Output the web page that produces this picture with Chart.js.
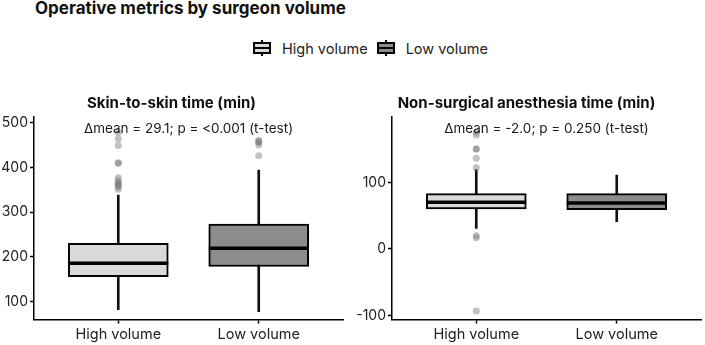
<!DOCTYPE html>
<html>
<head>
<meta charset="utf-8">
<script src="https://cdn.jsdelivr.net/npm/chart.js@4.4.1/dist/chart.umd.min.js"></script>
<style>
  body { margin: 0; width: 705px; height: 345px; background: #fff; font-family: Inter, sans-serif; position: relative; overflow: hidden; }
  .titulo { position: absolute; left: 35px; top: -2px; font-size: 17px; font-weight: bold; color: #111; }
  .legenda { position: absolute; left: 253px; top: 39px; display: flex; align-items: center; font-size: 14.5px; color: #222; }
  .chave { position: relative; width: 18px; height: 18px; margin-right: 11px; }
  .chave .bigode { position: absolute; left: 8px; top: 1px; width: 2px; height: 16px; background: #000; }
  .chave .caixa { position: absolute; left: 0; top: 3px; width: 14px; height: 8px; border: 2px solid #000; }
  .chave .mediana { position: absolute; left: 0; top: 8px; width: 18px; height: 2px; background: #000; }
  .item-texto { margin-right: 9px; }
  .painel { position: absolute; top: 88px; height: 257px; }
</style>
</head>
<body>
<div class="titulo">Operative metrics by surgeon volume</div>
<div class="legenda">
  <div class="chave"><div class="bigode"></div><div class="caixa" style="background:#d9d9d9"></div><div class="mediana"></div></div>
  <span class="item-texto">High volume</span>
  <div class="chave"><div class="bigode"></div><div class="caixa" style="background:#8c8c8c"></div><div class="mediana"></div></div>
  <span>Low volume</span>
</div>
<div class="painel" style="left:0;width:350px"><canvas id="graficoPele"></canvas></div>
<div class="painel" style="left:350px;width:355px"><canvas id="graficoAnestesia"></canvas></div>

<script>
// ========== DADOS ==========
const grupos = ['High volume', 'Low volume'];
const coresGrupo = ['#d9d9d9', '#8c8c8c'];

// Skin-to-skin time (min)
const peleQ1 = [155, 178];
const peleMediana = [185, 219];
const peleQ3 = [230, 273];
const peleBigodeMin = [81, 77];
const peleBigodeMax = [338, 394];
const peleOutliersHigh = [478, 464, 449, 410, 410, 377, 370, 365, 363, 360, 356, 351];
const peleOutliersLow = [461, 457, 457, 450, 426];
const peleTicks = [100, 200, 300, 400, 500];

// Non-surgical anesthesia time (min)
const anestQ1 = [60, 59];
const anestMediana = [70, 69];
const anestQ3 = [83, 83];
const anestBigodeMin = [31, 41];
const anestBigodeMax = [119, 111];
const anestOutliersHigh = [175, 171, 150, 150, 136, 122, 20, 17, -93];
const anestOutliersLow = [];
const anestTicks = [-100, 0, 100];

// Linha da mediana + texto de anotação
const pluginBoxplot = {
    id: 'boxplotExtras',
    afterDatasetsDraw(chart, args, opts) {
        const ctx = chart.ctx;
        const y = chart.scales.y;
        const meta = chart.getDatasetMeta(1);
        ctx.save();
        ctx.strokeStyle = '#000';
        ctx.lineWidth = 3.5;
        meta.data.forEach((bar, i) => {
            const py = y.getPixelForValue(opts.mediana[i]);
            ctx.beginPath();
            ctx.moveTo(bar.x - bar.width / 2, py);
            ctx.lineTo(bar.x + bar.width / 2, py);
            ctx.stroke();
        });
        const area = chart.chartArea;
        ctx.fillStyle = '#1a1a1a';
        ctx.font = '13.5px Inter';
        ctx.textAlign = 'center';
        ctx.textBaseline = 'middle';
        ctx.fillText(opts.texto, (area.left + area.right) / 2, area.top + 12);
        ctx.restore();
    }
};

function criaBoxplot(id, cfg) {
    const pontos = [];
    cfg.outHigh.forEach(v => pontos.push({ x: 1, y: v }));
    cfg.outLow.forEach(v => pontos.push({ x: 2, y: v }));
    return new Chart(document.getElementById(id), {
        type: 'bar',
        data: {
            datasets: [
                {
                    label: 'bigodes',
                    data: grupos.map((g, i) => ({ x: i + 1, y: [cfg.bmin[i], cfg.bmax[i]] })),
                    backgroundColor: '#111',
                    barThickness: 2,
                    grouped: false,
                    order: 3
                },
                {
                    label: 'caixas',
                    data: grupos.map((g, i) => ({ x: i + 1, y: [cfg.q1[i], cfg.q3[i]] })),
                    backgroundColor: coresGrupo,
                    borderColor: '#000',
                    borderWidth: 2,
                    borderSkipped: false,
                    grouped: false,
                    barThickness: 100,
                    order: 2
                },
                {
                    type: 'scatter',
                    label: 'outliers',
                    data: pontos,
                    backgroundColor: 'rgba(120,120,120,0.45)',
                    borderWidth: 0,
                    pointRadius: 3.5,
                    order: 1
                }
            ]
        },
        options: {
            responsive: true,
            maintainAspectRatio: false,
            animation: false,
            layout: { padding: { left: cfg.padEsq, right: cfg.padDir, top: 0, bottom: 0 } },
            plugins: {
                legend: { display: false },
                tooltip: { enabled: false },
                title: {
                    display: true,
                    text: cfg.titulo,
                    color: '#111',
                    font: { family: 'Inter', size: 15, weight: 'bold' },
                    padding: { top: 6, bottom: 5 }
                },
                boxplotExtras: { mediana: cfg.mediana, texto: cfg.texto }
            },
            scales: {
                x: {
                    type: 'linear',
                    min: 0.4,
                    max: 2.6,
                    offset: false,
                    afterBuildTicks: s => { s.ticks = [{ value: 1 }, { value: 2 }]; },
                    ticks: {
                        color: '#222',
                        font: { family: 'Inter', size: 14.5 },
                        padding: 2,
                        autoSkip: false,
                        maxRotation: 0,
                        callback: v => grupos[v - 1]
                    },
                    grid: { display: true, offset: false, drawOnChartArea: false, drawTicks: true, tickLength: 4, color: '#000', tickWidth: 1.5 },
                    border: { display: true, color: '#000', width: 1.5 }
                },
                y: {
                    min: cfg.min,
                    max: cfg.max,
                    afterBuildTicks: s => { s.ticks = cfg.ticks.map(v => ({ value: v })); },
                    afterFit: s => { s.width = cfg.larguraY; },
                    ticks: {
                        color: '#222',
                        font: { family: 'Inter', size: 14 },
                        padding: 2
                    },
                    grid: { display: true, drawOnChartArea: false, drawTicks: true, tickLength: 4, color: '#000', tickWidth: 1.5 },
                    border: { display: true, color: '#000', width: 1.5 }
                }
            }
        },
        plugins: [pluginBoxplot]
    });
}

// ========== GRÁFICOS ==========
criaBoxplot('graficoPele', {
    titulo: 'Skin-to-skin time (min)',
    texto: '\u0394mean = 29.1; p = <0.001 (t-test)',
    q1: peleQ1, mediana: peleMediana, q3: peleQ3,
    bmin: peleBigodeMin, bmax: peleBigodeMax,
    outHigh: peleOutliersHigh, outLow: peleOutliersLow,
    ticks: peleTicks, min: 59, max: 513,
    padEsq: 0, padDir: 7, larguraY: 34
});

criaBoxplot('graficoAnestesia', {
    titulo: 'Non-surgical anesthesia time (min)',
    texto: '\u0394mean = -2.0; p = 0.250 (t-test)',
    q1: anestQ1, mediana: anestMediana, q3: anestQ3,
    bmin: anestBigodeMin, bmax: anestBigodeMax,
    outHigh: anestOutliersHigh, outLow: anestOutliersLow,
    ticks: anestTicks, min: -106, max: 198,
    padEsq: 0, padDir: 2, larguraY: 42
});
</script>
</body>
</html>
